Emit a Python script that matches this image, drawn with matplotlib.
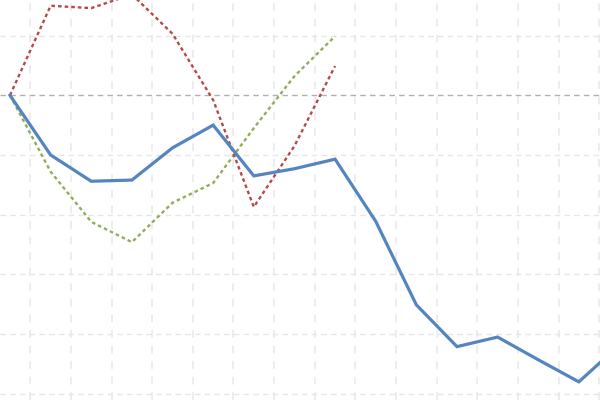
import numpy as np
import matplotlib
matplotlib.use("Agg")
import matplotlib.pyplot as plt

# index values (100 = start)
blue_vals = [100, 90.0, 85.6, 85.8, 91.2, 95.0, 86.5, 87.7, 89.3, 78.9,
             64.9, 57.9, 59.5, 55.7, 52.0, 58.2]
red_vals = [100, 115.0, 114.6, 116.9, 110.3, 99.2, 81.3, 91.5, 104.9]
green_vals = [100, 87.2, 78.8, 75.4, 82.0, 85.3, 94.5, 103.2, 109.9]
y_grid = [50, 60, 70, 80, 90, 110]
baseline = 100

fig = plt.figure(figsize=(6, 4), dpi=100)
ax = fig.add_axes([0, 0, 1, 1])

# grid
for i in range(len(blue_vals)):
    ax.axvline(i + 0.5, color="#ededed", lw=1.4, ls=(0, (4, 4)), zorder=0)
for v in y_grid:
    ax.axhline(v, color="#e6e6e6", lw=1.0, ls=(0, (4, 3)), zorder=0)
ax.axhline(baseline, color="#b0b0b0", lw=1.0, ls=(0, (4, 3)), zorder=1)

ax.plot(np.arange(len(green_vals)), green_vals, color="#8fad5a", lw=1.7,
        ls=(0, (1.5, 1.3)), zorder=2)
ax.plot(np.arange(len(red_vals)), red_vals, color="#b34a47", lw=1.7,
        ls=(0, (1.5, 1.3)), zorder=2)
ax.plot(np.arange(len(blue_vals)), blue_vals, color="#5585c0", lw=2.3,
        solid_joinstyle="miter", zorder=3)

ax.set_xlim(-0.246, 14.52)
ax.set_ylim(48.96, 115.96)
ax.axis("off")

fig.savefig("out.png", dpi=100)
